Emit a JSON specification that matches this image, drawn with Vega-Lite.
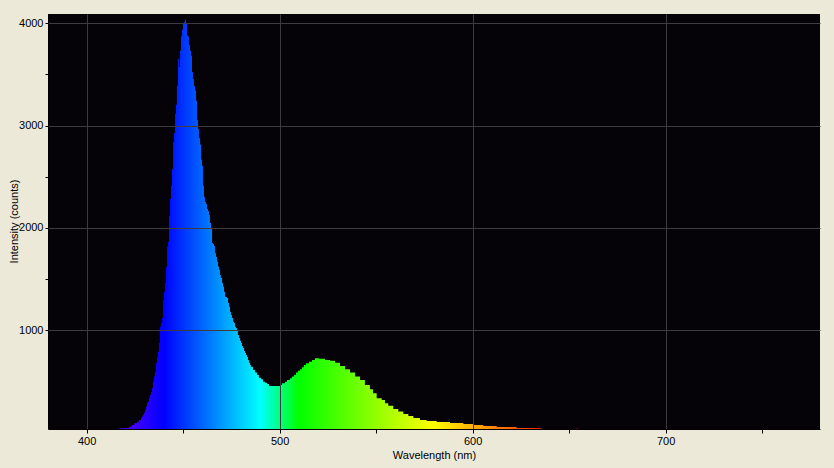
{
  "$schema": "https://vega.github.io/schema/vega-lite/v6.json",
  "width": 772,
  "height": 415,
  "autosize": {"type": "none"},
  "padding": {"left": 48, "top": 14, "right": 14, "bottom": 39},
  "background": "#ECE9D8",
  "config": {"view": {"fill": "#050308", "stroke": null}, "font": "Liberation Sans"},
  "data": {"values": [
    {"wavelength": 380.0, "counts": 0},
    {"wavelength": 415.0, "counts": 0},
    {"wavelength": 416.5, "counts": 38},
    {"wavelength": 417.3, "counts": 42},
    {"wavelength": 419.9, "counts": 45},
    {"wavelength": 422.0, "counts": 58},
    {"wavelength": 423.4, "counts": 75},
    {"wavelength": 424.7, "counts": 92},
    {"wavelength": 426.1, "counts": 107},
    {"wavelength": 427.2, "counts": 123},
    {"wavelength": 428.2, "counts": 143},
    {"wavelength": 428.7, "counts": 156},
    {"wavelength": 429.2, "counts": 175},
    {"wavelength": 429.7, "counts": 195},
    {"wavelength": 430.3, "counts": 221},
    {"wavelength": 430.8, "counts": 253},
    {"wavelength": 431.3, "counts": 290},
    {"wavelength": 431.8, "counts": 302},
    {"wavelength": 432.3, "counts": 338},
    {"wavelength": 432.8, "counts": 368},
    {"wavelength": 433.4, "counts": 400},
    {"wavelength": 433.9, "counts": 436},
    {"wavelength": 434.4, "counts": 498},
    {"wavelength": 434.9, "counts": 547},
    {"wavelength": 435.4, "counts": 595},
    {"wavelength": 436.0, "counts": 680},
    {"wavelength": 436.5, "counts": 742},
    {"wavelength": 437.0, "counts": 791},
    {"wavelength": 437.5, "counts": 876},
    {"wavelength": 438.0, "counts": 1035},
    {"wavelength": 438.5, "counts": 1071},
    {"wavelength": 439.1, "counts": 1120},
    {"wavelength": 439.6, "counts": 1296},
    {"wavelength": 440.1, "counts": 1377},
    {"wavelength": 440.6, "counts": 1462},
    {"wavelength": 441.1, "counts": 1621},
    {"wavelength": 441.7, "counts": 1817},
    {"wavelength": 442.2, "counts": 1866},
    {"wavelength": 442.7, "counts": 2117},
    {"wavelength": 443.2, "counts": 2283},
    {"wavelength": 443.7, "counts": 2410},
    {"wavelength": 444.2, "counts": 2576},
    {"wavelength": 444.8, "counts": 2840},
    {"wavelength": 445.3, "counts": 2928},
    {"wavelength": 445.8, "counts": 3114},
    {"wavelength": 446.3, "counts": 3205},
    {"wavelength": 446.8, "counts": 3390},
    {"wavelength": 447.3, "counts": 3651},
    {"wavelength": 447.8, "counts": 3573},
    {"wavelength": 448.4, "counts": 3732},
    {"wavelength": 448.9, "counts": 3873},
    {"wavelength": 449.4, "counts": 3937},
    {"wavelength": 449.9, "counts": 3993},
    {"wavelength": 450.4, "counts": 4013},
    {"wavelength": 450.9, "counts": 4035},
    {"wavelength": 451.5, "counts": 3993},
    {"wavelength": 452.0, "counts": 3880},
    {"wavelength": 452.5, "counts": 3871},
    {"wavelength": 453.0, "counts": 3788},
    {"wavelength": 453.6, "counts": 3732},
    {"wavelength": 454.1, "counts": 3683},
    {"wavelength": 454.6, "counts": 3524},
    {"wavelength": 455.1, "counts": 3456},
    {"wavelength": 455.6, "counts": 3387},
    {"wavelength": 456.2, "counts": 3341},
    {"wavelength": 456.7, "counts": 3244},
    {"wavelength": 457.2, "counts": 3055},
    {"wavelength": 457.7, "counts": 2967},
    {"wavelength": 458.2, "counts": 2879},
    {"wavelength": 458.8, "counts": 2814},
    {"wavelength": 459.3, "counts": 2667},
    {"wavelength": 459.8, "counts": 2608},
    {"wavelength": 460.3, "counts": 2413},
    {"wavelength": 460.8, "counts": 2303},
    {"wavelength": 461.3, "counts": 2254},
    {"wavelength": 461.9, "counts": 2234},
    {"wavelength": 462.4, "counts": 2185},
    {"wavelength": 462.9, "counts": 2166},
    {"wavelength": 463.4, "counts": 2127},
    {"wavelength": 463.9, "counts": 2049},
    {"wavelength": 464.5, "counts": 2000},
    {"wavelength": 465.0, "counts": 1853},
    {"wavelength": 465.5, "counts": 1843},
    {"wavelength": 466.0, "counts": 1824},
    {"wavelength": 466.5, "counts": 1755},
    {"wavelength": 467.0, "counts": 1716},
    {"wavelength": 467.6, "counts": 1670},
    {"wavelength": 468.1, "counts": 1622},
    {"wavelength": 468.6, "counts": 1589},
    {"wavelength": 469.1, "counts": 1540},
    {"wavelength": 469.6, "counts": 1511},
    {"wavelength": 470.2, "counts": 1462},
    {"wavelength": 470.7, "counts": 1426},
    {"wavelength": 471.2, "counts": 1377},
    {"wavelength": 471.7, "counts": 1328},
    {"wavelength": 472.2, "counts": 1325},
    {"wavelength": 472.7, "counts": 1316},
    {"wavelength": 473.3, "counts": 1267},
    {"wavelength": 473.8, "counts": 1231},
    {"wavelength": 474.3, "counts": 1182},
    {"wavelength": 474.8, "counts": 1150},
    {"wavelength": 475.3, "counts": 1120},
    {"wavelength": 475.9, "counts": 1084},
    {"wavelength": 476.4, "counts": 1071},
    {"wavelength": 476.9, "counts": 1035},
    {"wavelength": 477.4, "counts": 1022},
    {"wavelength": 477.9, "counts": 1003},
    {"wavelength": 478.4, "counts": 954},
    {"wavelength": 479.0, "counts": 925},
    {"wavelength": 479.5, "counts": 898},
    {"wavelength": 480.0, "counts": 876},
    {"wavelength": 480.5, "counts": 847},
    {"wavelength": 481.0, "counts": 827},
    {"wavelength": 481.6, "counts": 798},
    {"wavelength": 482.1, "counts": 778},
    {"wavelength": 482.6, "counts": 759},
    {"wavelength": 483.1, "counts": 739},
    {"wavelength": 483.6, "counts": 710},
    {"wavelength": 484.1, "counts": 683},
    {"wavelength": 484.7, "counts": 661},
    {"wavelength": 485.2, "counts": 641},
    {"wavelength": 486.2, "counts": 612},
    {"wavelength": 487.3, "counts": 586},
    {"wavelength": 488.3, "counts": 563},
    {"wavelength": 489.3, "counts": 537},
    {"wavelength": 490.4, "counts": 521},
    {"wavelength": 491.4, "counts": 498},
    {"wavelength": 492.4, "counts": 488},
    {"wavelength": 493.5, "counts": 475},
    {"wavelength": 494.5, "counts": 456},
    {"wavelength": 500.2, "counts": 465},
    {"wavelength": 501.2, "counts": 482},
    {"wavelength": 502.8, "counts": 498},
    {"wavelength": 503.8, "counts": 514},
    {"wavelength": 505.4, "counts": 531},
    {"wavelength": 506.4, "counts": 547},
    {"wavelength": 507.5, "counts": 563},
    {"wavelength": 508.5, "counts": 586},
    {"wavelength": 509.5, "counts": 605},
    {"wavelength": 510.6, "counts": 619},
    {"wavelength": 511.6, "counts": 638},
    {"wavelength": 512.6, "counts": 661},
    {"wavelength": 513.7, "counts": 678},
    {"wavelength": 515.2, "counts": 693},
    {"wavelength": 516.8, "counts": 710},
    {"wavelength": 518.3, "counts": 726},
    {"wavelength": 520.4, "counts": 722},
    {"wavelength": 523.5, "counts": 710},
    {"wavelength": 526.1, "counts": 703},
    {"wavelength": 528.7, "counts": 683},
    {"wavelength": 531.3, "counts": 651},
    {"wavelength": 533.9, "counts": 619},
    {"wavelength": 536.5, "counts": 586},
    {"wavelength": 539.1, "counts": 547},
    {"wavelength": 541.7, "counts": 514},
    {"wavelength": 544.2, "counts": 465},
    {"wavelength": 546.8, "counts": 423},
    {"wavelength": 548.4, "counts": 384},
    {"wavelength": 550.3, "counts": 335},
    {"wavelength": 552.9, "counts": 319},
    {"wavelength": 554.6, "counts": 287},
    {"wavelength": 556.3, "counts": 263},
    {"wavelength": 558.9, "counts": 231},
    {"wavelength": 561.5, "counts": 205},
    {"wavelength": 564.1, "counts": 182},
    {"wavelength": 566.7, "counts": 162},
    {"wavelength": 569.3, "counts": 143},
    {"wavelength": 572.7, "counts": 123},
    {"wavelength": 576.2, "counts": 114},
    {"wavelength": 581.4, "counts": 104},
    {"wavelength": 588.3, "counts": 94},
    {"wavelength": 595.2, "counts": 84},
    {"wavelength": 600.4, "counts": 75},
    {"wavelength": 605.5, "counts": 65},
    {"wavelength": 612.5, "counts": 55},
    {"wavelength": 622.8, "counts": 45},
    {"wavelength": 634.4, "counts": 42},
    {"wavelength": 636.0, "counts": 0},
    {"wavelength": 653.9, "counts": 42},
    {"wavelength": 654.5, "counts": 0},
    {"wavelength": 780.0, "counts": 0}
  ]},
  "mark": {
    "type": "area",
    "interpolate": "step-after",
    "clip": true,
    "fill": {
      "gradient": "linear",
      "x1": 0, "x2": 1, "y1": 0, "y2": 0,
      "stops": [
        {"offset": 0, "color": "#ff00ff"},
        {"offset": 0.15, "color": "#0000ff"},
        {"offset": 0.275, "color": "#00ffff"},
        {"offset": 0.325, "color": "#00ff00"},
        {"offset": 0.5, "color": "#ffff00"},
        {"offset": 0.6625, "color": "#ff0000"},
        {"offset": 1, "color": "#ff0000"}
      ]
    }
  },
  "encoding": {
    "x": {
      "field": "wavelength",
      "type": "quantitative",
      "scale": {"domain": [380, 780], "nice": false, "zero": false},
      "axis": {
        "title": "Wavelength (nm)",
        "values": [400, 450, 500, 550, 600, 650, 700, 750],
        "format": "d",
        "labelExpr": "datum.value % 100 === 0 ? datum.label : ''",
        "grid": true,
        "gridColor": "#3c3c3c",
        "gridOpacity": {"condition": {"test": "datum.value % 100 === 0", "value": 1}, "value": 0},
        "zindex": 1,
        "tickSize": 4,
        "tickColor": "#000000",
        "domainColor": "#000000",
        "labelColor": "#000000",
        "titleColor": "#000000",
        "labelFont": "Liberation Sans",
        "titleFont": "Liberation Sans",
        "labelFontSize": 11,
        "titleFontSize": 11,
        "titleFontWeight": "normal",
        "labelPadding": 2,
        "titlePadding": 3,
        "labelFlush": false
      }
    },
    "y": {
      "field": "counts",
      "type": "quantitative",
      "stack": null,
      "scale": {"domain": [35, 4091], "nice": false, "zero": false},
      "axis": {
        "title": "Intensity (counts)",
        "values": [1000, 1500, 2000, 2500, 3000, 3500, 4000],
        "format": "d",
        "labelExpr": "datum.value % 1000 === 0 ? datum.label : ''",
        "grid": true,
        "gridColor": "#3c3c3c",
        "gridOpacity": {"condition": {"test": "datum.value % 1000 === 0", "value": 1}, "value": 0},
        "zindex": 1,
        "tickSize": 3,
        "tickColor": "#000000",
        "domainColor": "#000000",
        "labelColor": "#000000",
        "titleColor": "#000000",
        "labelFont": "Liberation Sans",
        "titleFont": "Liberation Sans",
        "labelFontSize": 11,
        "titleFontSize": 11,
        "titleFontWeight": "normal",
        "labelPadding": 2,
        "titleX": -34,
        "titleY": 207,
        "titleAlign": "center",
        "titleBaseline": "middle",
        "labelFlush": false
      }
    }
  }
}
